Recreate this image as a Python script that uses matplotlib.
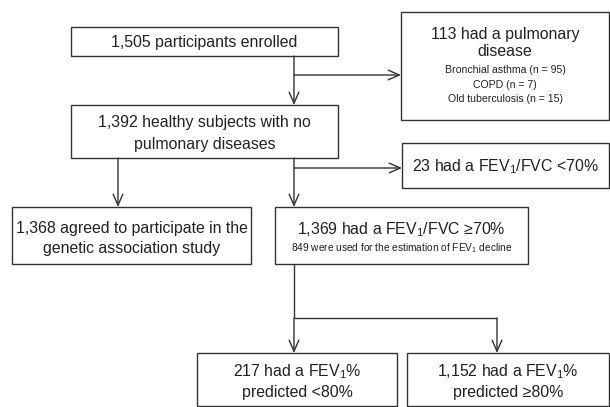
import matplotlib
matplotlib.use("Agg")
import matplotlib.pyplot as plt
from matplotlib.patches import Rectangle, FancyArrowPatch

plt.rcParams["font.family"] = ["Liberation Sans", "DejaVu Sans"]
plt.rcParams["mathtext.fontset"] = "custom"
plt.rcParams["mathtext.rm"] = "Liberation Sans"
plt.rcParams["mathtext.it"] = "Liberation Sans:italic"

# flow counts and box texts
box_names = ["enrolled", "pulmonary", "healthy", "fev_low", "genetic",
             "fev_ok", "pred_low", "pred_ok"]
box_titles = [
    ["1,505 participants enrolled"],
    ["113 had a pulmonary", "disease"],
    ["1,392 healthy subjects with no", "pulmonary diseases"],
    ["23 had a FEV$_\\mathrm{1}$/FVC <70%"],
    ["1,368 agreed to participate in the", "genetic association study"],
    ["1,369 had a FEV$_\\mathrm{1}$/FVC \u226570%"],
    ["217 had a FEV$_\\mathrm{1}$%", "predicted <80%"],
    ["1,152 had a FEV$_\\mathrm{1}$%", "predicted \u226580%"],
]
disease_labels = ["Bronchial asthma", "COPD", "Old tuberculosis"]
disease_counts = [95, 7, 15]
fev_note = "849 were used for the estimation of FEV$_\\mathrm{1}$ decline"

# layout in pixel coords (x0, y0, x1, y1), y grows downward
box_pos = {
    "enrolled": (71, 27, 338, 56),
    "pulmonary": (401, 12, 609, 120),
    "healthy": (71, 105, 338, 158),
    "fev_low": (402, 143, 609, 188),
    "genetic": (12, 207, 251, 264),
    "fev_ok": (275, 207, 528, 264),
    "pred_low": (197, 353, 397, 406),
    "pred_ok": (407, 353, 609, 406),
}
title_y = {
    "enrolled": [42],
    "pulmonary": [35, 51],
    "healthy": [123, 145],
    "fev_low": [167],
    "genetic": [228, 249],
    "fev_ok": [230],
    "pred_low": [372, 393],
    "pred_ok": [372, 393],
}
detail_y = [70, 84.5, 99]

LC = "#333333"
TC = "#222222"
W, H = 610, 407

fig = plt.figure(figsize=(W / 100, H / 100), dpi=100)
ax = fig.add_axes([0, 0, 1, 1])
ax.set_xlim(0, W)
ax.set_ylim(H, 0)
ax.axis("off")

for name, lines in zip(box_names, box_titles):
    x0, y0, x1, y1 = box_pos[name]
    ax.add_patch(Rectangle((x0, y0), x1 - x0, y1 - y0, fill=False,
                           edgecolor=LC, lw=1.0))
    cx = (x0 + x1) / 2
    for line, y in zip(lines, title_y[name]):
        ax.text(cx, y, line, ha="center", va="center", fontsize=11.4,
                color=TC)

# details inside the pulmonary-disease box
px0, _, px1, _ = box_pos["pulmonary"]
for lab, n, y in zip(disease_labels, disease_counts, detail_y):
    ax.text((px0 + px1) / 2, y, f"{lab} (n = {n})", ha="center",
            va="center", fontsize=7.6, color=TC)

fx0, _, fx1, _ = box_pos["fev_ok"]
ax.text((fx0 + fx1) / 2, 248, fev_note, ha="center", va="center",
        fontsize=7.3, color=TC)


def arrow(p, q):
    ax.add_patch(FancyArrowPatch(p, q, arrowstyle="->,head_length=8,head_width=3.5",
                                 mutation_scale=1, color=LC, lw=1.0,
                                 shrinkA=0, shrinkB=0))


def line(xs, ys):
    ax.plot(xs, ys, color=LC, lw=1.0, solid_capstyle="butt")


mx = 294
arrow((mx, 56), (mx, 105))
arrow((mx, 75), (401, 75))
arrow((mx, 158), (mx, 207))
arrow((mx, 168), (402, 168))
arrow((118, 158), (118, 207))
line([mx, mx], [264, 318])
line([mx, 497], [318, 318])
arrow((mx, 318), (mx, 353))
arrow((497, 318), (497, 353))

fig.savefig("out.png", dpi=100)
